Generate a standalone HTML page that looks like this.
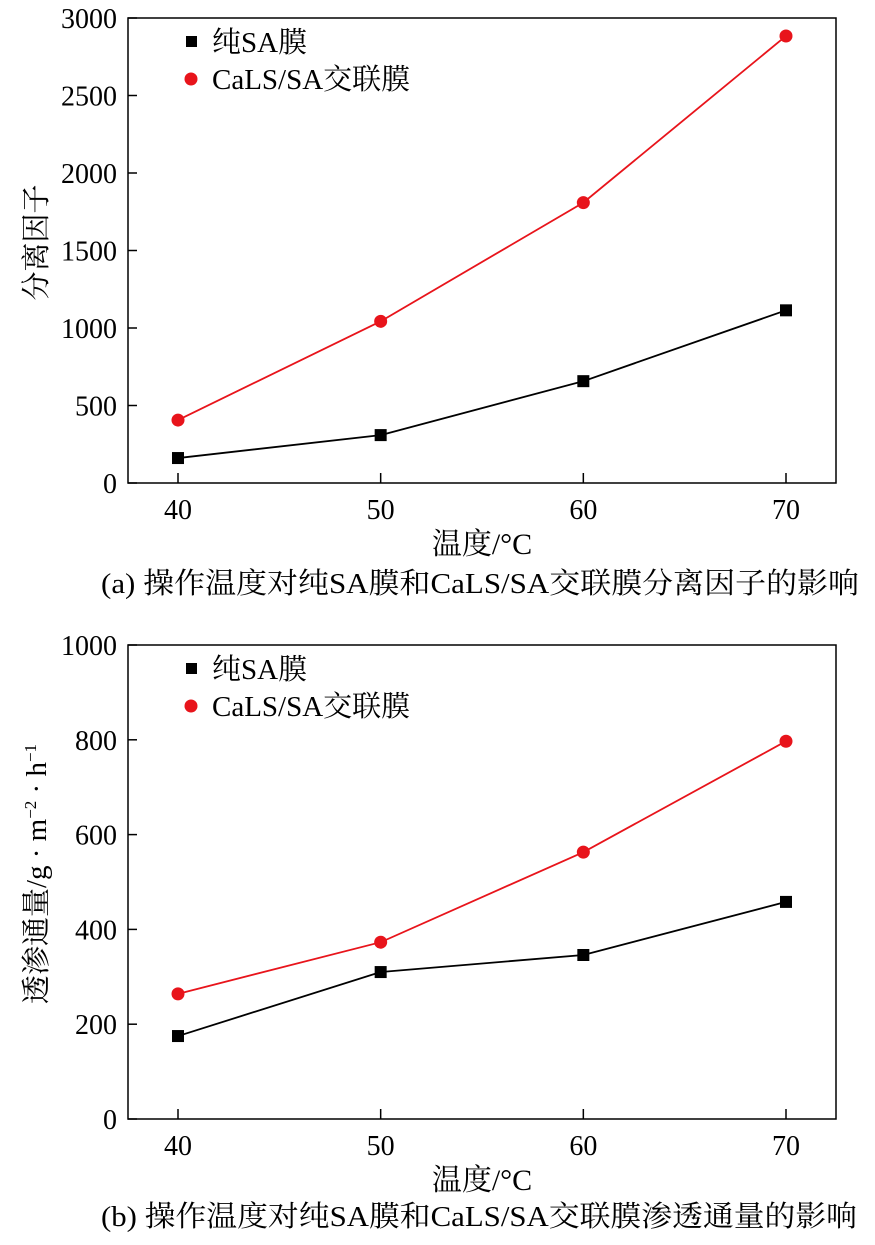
<!DOCTYPE html>
<html><head><meta charset="utf-8"><style>
body{margin:0;background:#fff;}
svg text{font-family:"Liberation Serif","Noto Serif CJK SC",serif;fill:#000;}
</style></head><body>
<svg id="s" width="875" height="1240" xmlns="http://www.w3.org/2000/svg"></svg>
<script>
const categories=[40,50,60,70];
const sepPure=[161,309,657,1114];
const sepCross=[406,1043,1809,2884];
const fluxPure=[175,310,346,458];
const fluxCross=[264,373,563,797];
const ticksA=[0,500,1000,1500,2000,2500,3000];
const ticksB=[0,200,400,600,800,1000];
const NS='http://www.w3.org/2000/svg';
const svg=document.getElementById('s');
function mk(t,a,p){const e=document.createElementNS(NS,t);for(const k in a)e.setAttribute(k,a[k]);(p||svg).appendChild(e);return e;}
function panel(id,top,bottom,ymax,ticks,s1,s2,ylabel,cap,capY,capW,leg1,leg2){
  const g=mk('g',{});
  
  
  const L=128,R=836;
  const x=v=>178+(v-40)/30*(786-178);
  const y=v=>bottom-v/ymax*(bottom-top);
  const fr=mk('rect',{x:L,y:top,width:R-L,height:bottom-top,fill:'none',stroke:'#000','stroke-width':1.5},g);
  
  ticks.forEach(t=>{
    mk('line',{x1:L,x2:L+9,y1:y(t),y2:y(t),stroke:'#000','stroke-width':1.5},g);
    const tx=mk('text',{x:L-11,y:y(t)+10,'text-anchor':'end','font-size':28},g);tx.textContent=t;
    
  });
  categories.forEach(c=>{
    mk('line',{x1:x(c),x2:x(c),y1:bottom,y2:bottom-10,stroke:'#000','stroke-width':1.5},g);
    const tx=mk('text',{x:x(c),y:bottom+36,'text-anchor':'middle','font-size':28},g);tx.textContent=c;
    
  });
  [[s1,'#000','sq'],[s2,'#e8141b','ci']].forEach(([d,col,m])=>{
    const l=mk('polyline',{points:d.map((v,i)=>x(categories[i])+','+y(v)).join(' '),fill:'none',stroke:col,'stroke-width':1.8},g);
    
    d.forEach((v,i)=>{
      const cx=x(categories[i]),cy=y(v);
      const p=m=='sq'?mk('rect',{x:cx-6,y:cy-6,width:12,height:12,fill:col},g):mk('circle',{cx,cy,r:6.5,fill:col},g);
      
    });
  });
  const r1=mk('rect',{x:186,y:top+18,width:11,height:11,fill:'#000'},g);
  
  const t1=mk('text',{x:212,y:top+34,'font-size':29},g);t1.textContent=leg1;
  
  const c2=mk('circle',{cx:191,cy:top+61,r:6.5,fill:'#e8141b'},g);
  
  const t2=mk('text',{x:212,y:top+71,'font-size':29},g);t2.textContent=leg2;
  
  const xl=mk('text',{x:482,y:bottom+71,'text-anchor':'middle','font-size':30},g);xl.textContent='温度/°C';
  
  const yl=mk('text',{x:0,y:0,'text-anchor':'middle','font-size':29,transform:`translate(46,${(top+bottom)/2-8}) rotate(-90)`},g);yl.innerHTML=ylabel;
  
  const ct=mk('text',{x:101,y:capY,'font-size':29,textLength:capW,lengthAdjust:'spacingAndGlyphs'},g);ct.textContent=cap;
  
}
panel('chart-separation-factor',18,483,3000,ticksA,sepPure,sepCross,'分离因子','(a) 操作温度对纯SA膜和CaLS/SA交联膜分离因子的影响',593,758,'纯SA膜','CaLS/SA交联膜');
panel('chart-permeation-flux',645,1119,1000,ticksB,fluxPure,fluxCross,'透渗通量/g · m<tspan dy="-10" font-size="17">−2</tspan><tspan dy="10"> · h</tspan><tspan dy="-10" font-size="17">−1</tspan>','(b) 操作温度对纯SA膜和CaLS/SA交联膜渗透通量的影响',1226,756,'纯SA膜','CaLS/SA交联膜');
</script>
</body></html>
